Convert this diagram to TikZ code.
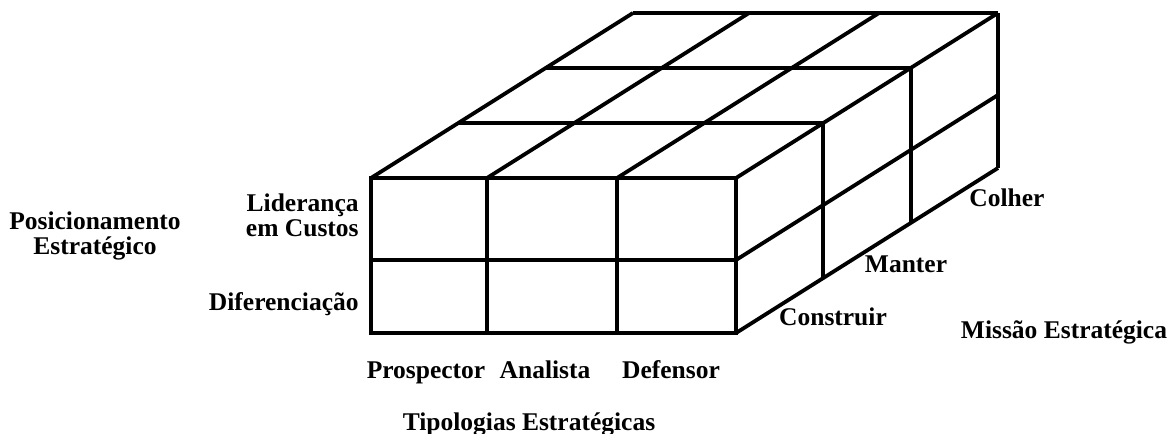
\documentclass[tikz,border=0pt]{standalone}
\usepackage{fontspec}
\setmainfont{Liberation Serif}
\usetikzlibrary{positioning}

\begin{document}
\begin{tikzpicture}[x=0.5pt,y=-0.5pt,
    lbl/.style={font=\bfseries\fontsize{12.75}{12.5}\selectfont,inner sep=0pt},
    grid/.style={line width=1.9pt}]
  \useasboundingbox (0,0) rectangle (1169,434);
  % front face
  \draw[grid] (371,178) rectangle (736,333);
  \foreach \x in {487,617} \draw[grid] (\x,178) -- (\x,333);
  \draw[grid,line width=2.3pt] (371,260) -- (736,260);
  % top face
  \foreach \x in {371,487,617,736} \draw[grid] (\x,178) -- ++(262,-165);
  \foreach \k in {1,2,3} \draw[grid] (371+87.3*\k,178-55*\k) -- (736+87.3*\k,178-55*\k);
  % right face
  \foreach \y in {260,333} \draw[grid] (736,\y) -- ++(262,-165);
  \foreach \k in {1,2,3} \draw[grid] (736+87.3*\k,178-55*\k) -- (736+87.3*\k,333-55*\k);

  \node[lbl,align=center] (pos) at (95,236) {Posicionamento\\Estratégico};
  \node[lbl,align=right,anchor=east] (lid) at (359,215) {Liderança\\em Custos};
  \node[lbl,anchor=base east] (dif) at (359,310) {Diferenciação};

  \node[lbl,anchor=base] (pro) at (426,378) {Prospector};
  \node[lbl,anchor=base] (ana) at (545,378) {Analista};
  \node[lbl,anchor=base] (def) at (671,378) {Defensor};
  \node[lbl,anchor=base] (tip) at (529,430) {Tipologias Estratégicas};

  \node[lbl,anchor=base] (con) at (833,325) {Construir};
  \node[lbl,anchor=base] (man) at (906,272) {Manter};
  \node[lbl,anchor=base] (col) at (1007,206) {Colher};
  \node[lbl,anchor=base] (mis) at (1064,338) {Missão Estratégica};
\end{tikzpicture}
\end{document}
